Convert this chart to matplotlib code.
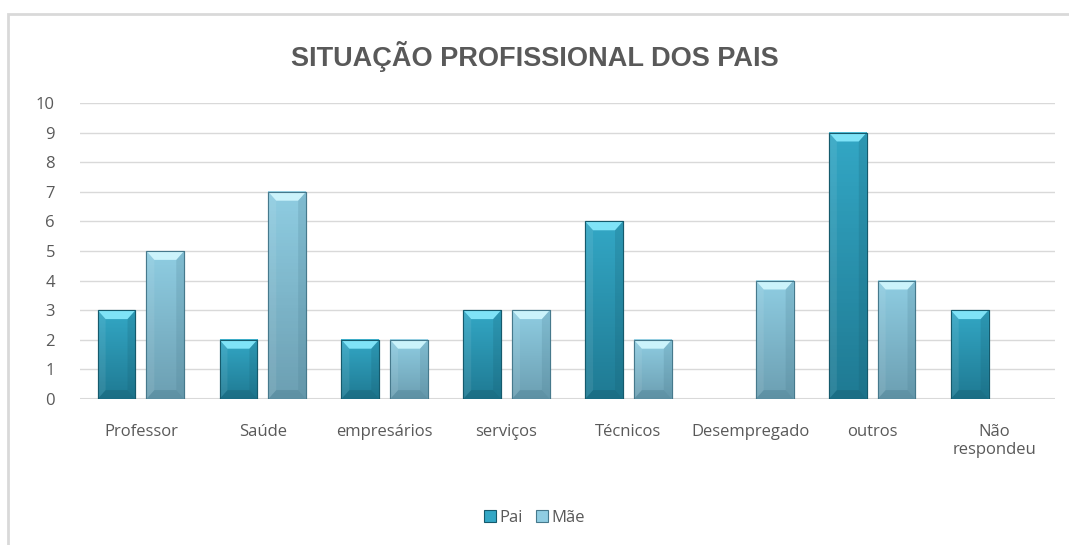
import numpy as np
import matplotlib.pyplot as plt
from matplotlib.patches import Rectangle, Polygon
from matplotlib.colors import LinearSegmentedColormap

categories = ['Professor', 'Saúde', 'empresários', 'serviços', 'Técnicos',
              'Desempregado', 'outros', 'Não\nrespondeu']
pai = [3, 2, 2, 3, 6, 0, 9, 3]
mae = [5, 7, 2, 3, 2, 4, 4, 0]

plt.rcParams['font.family'] = ['Open Sans', 'DejaVu Sans']
txt = '#595959'

fig = plt.figure(figsize=(10.69, 5.45), dpi=100)
ax = fig.add_axes([80 / 1069, 1 - 399 / 545, 975 / 1069, 296 / 545])

# outer frame (right and bottom edges run off the picture)
fig.patches.append(Rectangle((8 / 1069, -0.05), 1.1, 1.05 - 14 / 545,
                             transform=fig.transFigure, fill=False,
                             edgecolor='#D9D9D9', linewidth=2))


def bevel_bar(x, h, w, top, bottom, light, dark, label=None):
    if h <= 0:
        return
    bars = ax.bar(x, h, w, color=top, edgecolor=dark, linewidth=0.8,
                  label=label, zorder=3)
    r = bars[0]
    x0, x1 = r.get_x(), r.get_x() + r.get_width()
    cmap = LinearSegmentedColormap.from_list('g', [bottom, top])
    grad = np.linspace(0, 1, 64).reshape(-1, 1)
    ax.imshow(grad, cmap=cmap, extent=(x0, x1, 0, h), origin='lower',
              aspect='auto', zorder=3.5)
    ax.add_patch(Rectangle((x0, 0), x1 - x0, h, fill=False, edgecolor=dark,
                           linewidth=0.8, zorder=5))
    bx, by = 0.065, 0.3
    ax.add_patch(Polygon([(x0, h), (x1, h), (x1 - bx, h - by), (x0 + bx, h - by)],
                         color=light, zorder=4, lw=0))
    ax.add_patch(Polygon([(x0, 0), (x1, 0), (x1 - bx, by), (x0 + bx, by)],
                         color=dark, alpha=0.35, zorder=4, lw=0))
    ax.add_patch(Polygon([(x1, 0), (x1, h), (x1 - bx, h - by), (x1 - bx, by)],
                         color=dark, alpha=0.2, zorder=4, lw=0))
    ax.add_patch(Polygon([(x0, 0), (x0, h), (x0 + bx, h - by), (x0 + bx, by)],
                         color='white', alpha=0.08, zorder=4, lw=0))


off, w = 0.2, 0.31
for i in range(len(categories)):
    bevel_bar(i - off, pai[i], w, '#33A7C5', '#1F7A93', '#7FE3F7', '#155A6C',
              label='Pai' if i == 0 else None)
    bevel_bar(i + off, mae[i], w, '#8FCDE2', '#6C9FB2', '#CBF3FB', '#46798C',
              label='Mãe' if i == 1 else None)

ax.set_xlim(-0.5, len(categories) - 0.5)
ax.set_ylim(0, 10)
ax.set_yticks(range(0, 11))
ax.set_xticks(range(len(categories)))
ax.set_xticklabels(categories)
ax.tick_params(axis='both', length=0, colors=txt, labelsize=12)
ax.tick_params(axis='x', pad=18)
ax.tick_params(axis='y', pad=18)
ax.grid(axis='y', color='#D9D9D9', linewidth=1, zorder=0)
for s in ax.spines.values():
    s.set_visible(False)
ax.axhline(0, color='#D9D9D9', linewidth=1.5, zorder=2)

fig.text(0.5, 1 - 57 / 545, 'SITUAÇÃO PROFISSIONAL DOS PAIS', ha='center',
         va='center', fontsize=19.5, fontweight='bold', color=txt,
         family=['Liberation Sans', 'DejaVu Sans'])

handles, labels = ax.get_legend_handles_labels()
fig.legend(handles, labels, loc='center', bbox_to_anchor=(0.5, 1 - 518 / 545),
           ncol=2, frameon=False, fontsize=12, handlelength=0.7, handleheight=0.7,
           handletextpad=0.2, columnspacing=0.8, labelcolor=txt)

fig.savefig('out.png', dpi=100)
